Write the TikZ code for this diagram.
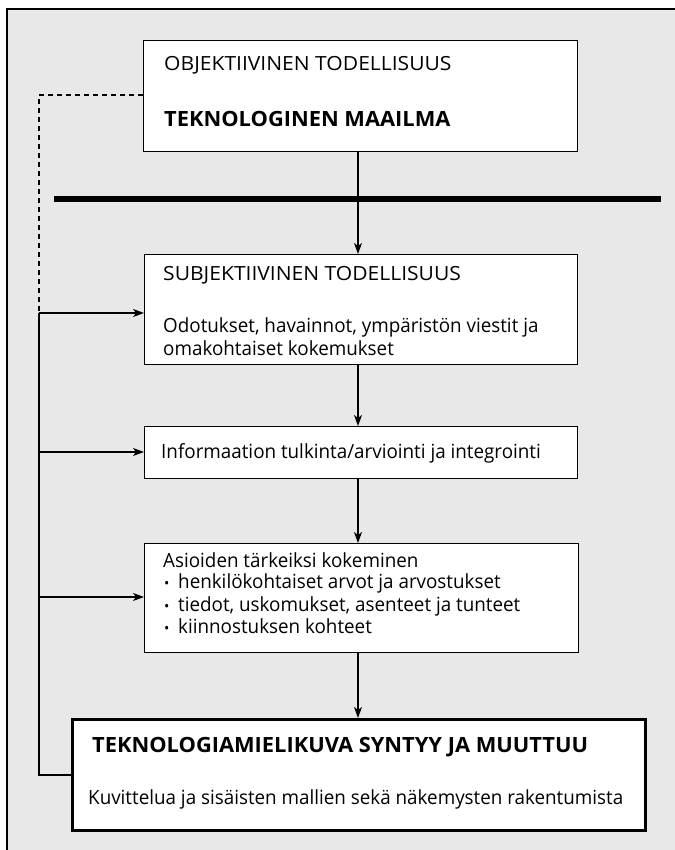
\documentclass[tikz,border=0pt]{standalone}
\usepackage{fontspec}
\setmainfont[FakeStretch=0.965]{Open Sans}
\newfontfamily\capsfont[FakeStretch=1.08]{Open Sans}
\newfontfamily\boldcapsfont[FakeStretch=1.04]{Open Sans}
\usetikzlibrary{arrows.meta}
\definecolor{panel}{HTML}{E8E8E8}
\tikzset{
  stepbox/.style={draw=black, line width=1.3pt, fill=white, rectangle, inner sep=0pt, anchor=north west},
  endbox/.style={stepbox, line width=3pt},
  lbl/.style={anchor=base west, inner sep=0pt, font=\fontsize{19.5}{22}\selectfont},
  lblc/.style={lbl, font=\capsfont\fontsize{19.5}{22}\selectfont},
  lblb/.style={lbl, font=\boldcapsfont\fontsize{21}{24}\selectfont\bfseries},
  conn/.style={line width=1.2pt},
  arr/.style={conn, -{Stealth[length=11pt, width=8pt, inset=3pt]}},
}
\newcommand{\dotitem}{\scalebox{0.75}{\textbullet}}
\begin{document}
\begin{tikzpicture}[x=1pt, y=-1pt]
\useasboundingbox (0,0) rectangle (674,850);
% grey panel with its frame
\fill[white] (0,0) rectangle (674,850);
\draw[line width=2pt, fill=panel] (7,9) rectangle (720,900);

% boxes
\node[stepbox, minimum width=434pt, minimum height=111pt] (obj) at (143,40) {};
\node[stepbox, minimum width=433pt, minimum height=110pt] (subj) at (144,254) {};
\node[stepbox, minimum width=433pt, minimum height=52pt] (info) at (144,426) {};
\node[stepbox, minimum width=434pt, minimum height=109pt] (asi) at (144,543) {};
\node[endbox, minimum width=573pt, minimum height=111pt] (img) at (71,718) {};

% separator bar
\node[fill=black, inner sep=0pt, minimum width=607pt, minimum height=6pt, anchor=north west] (bar) at (54,196) {};

% texts
\node[lblc] (t1) at (164,71) {OBJEKTIIVINEN TODELLISUUS};
\node[lblb] (t2) at (164,127) {TEKNOLOGINEN MAAILMA};
\node[lblc] (t3) at (163,280) {SUBJEKTIIVINEN TODELLISUUS};
\node[lbl] (t4) at (163,332) {Odotukset, havainnot, ympäristön viestit ja};
\node[lbl] (t5) at (163,355) {omakohtaiset kokemukset};
\node[lbl] (t6) at (161,458) {Informaation tulkinta/arviointi ja integrointi};
\node[lbl] (t7) at (163,567) {Asioiden tärkeiksi kokeminen};
\node[lbl] (b1) at (164,588) {\dotitem};
\node[lbl] (t8) at (178,588) {henkilökohtaiset arvot ja arvostukset};
\node[lbl] (b2) at (164,611) {\dotitem};
\node[lbl] (t9) at (178,611) {tiedot, uskomukset, asenteet ja tunteet};
\node[lbl] (b3) at (164,633) {\dotitem};
\node[lbl] (t10) at (178,633) {kiinnostuksen kohteet};
\node[lblb] (t11) at (92,752) {TEKNOLOGIAMIELIKUVA SYNTYY JA MUUTTUU};
\node[lbl] (t12) at (88,804) {Kuvittelua ja sisäisten mallien sekä näkemysten rakentumista};

% main chain
\coordinate (c0) at (358,151);
\draw[arr] (c0) -- (c0 |- subj.north);
\coordinate (c1) at (358,364);
\draw[arr] (c1) -- (c1 |- info.north);
\coordinate (c2) at (358,478);
\draw[arr] (c2) -- (c2 |- asi.north);
\coordinate (c3) at (358,652);
\draw[arr] (c3) -- (c3 |- img.north);

% feedback spine on the left
\coordinate (s0) at (39,95);
\coordinate (s1) at (39,313);
\coordinate (s2) at (39,452);
\coordinate (s3) at (39,597);
\draw[conn, dashed, dash pattern=on 5pt off 4pt] (obj.west |- s0) -- (s0) -- (s1);
\draw[conn] (s1) |- (img.west);
\draw[arr] (s1) -- (s1 -| subj.west);
\draw[arr] (s2) -- (s2 -| info.west);
\draw[arr] (s3) -- (s3 -| asi.west);
\end{tikzpicture}
\end{document}
